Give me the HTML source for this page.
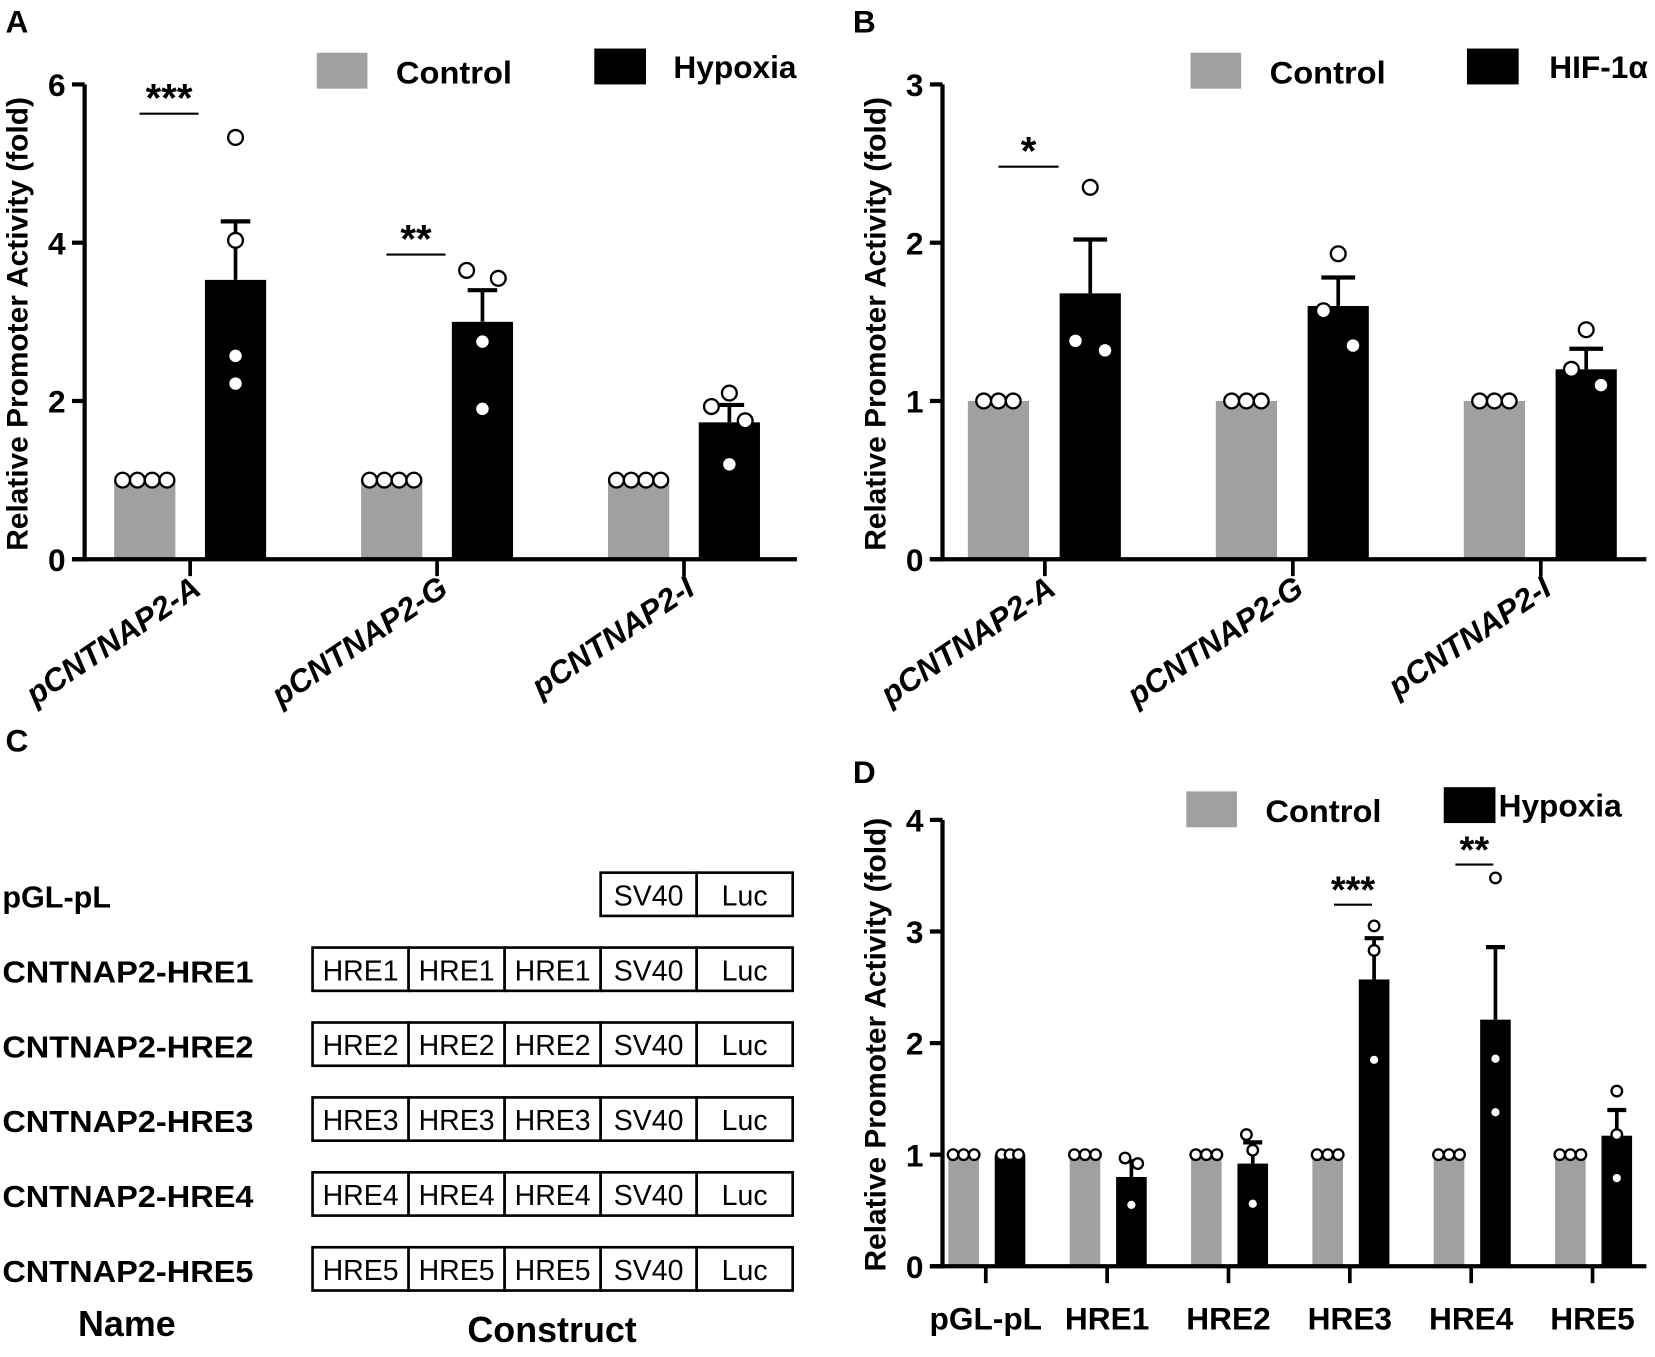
<!DOCTYPE html>
<html><head><meta charset="utf-8"><style>
html,body{margin:0;padding:0;background:#fff;}
svg{display:block;}
text{font-family:"Liberation Sans",sans-serif;font-weight:bold;fill:#000;}
.wide{font-family:"Liberation Sans",sans-serif;}
</style></head><body>
<svg id="fig" width="1655" height="1357" viewBox="0 0 1568 1286" xmlns="http://www.w3.org/2000/svg">
<rect x="0" y="0" width="1568" height="1286" fill="#fff"/>
<text x="5" y="31" font-size="30">A</text>
<text x="808" y="31" font-size="30">B</text>
<text x="5" y="712" font-size="30">C</text>
<text x="808" y="742" font-size="30">D</text>
<g id="panelC"></g>
<g id="panelA"></g>
<g id="panelB"></g>
<g id="panelD"></g>
</svg>
<script>
// ---- Panel A data ----
const aCategories = ["pCNTNAP2-A","pCNTNAP2-G","pCNTNAP2-I"];
const aControl = [1,1,1];
const aTreat = [3.53,3.0,1.73];
const aTreatErr = [4.27,3.4,1.95];
const aTreatPts = [[5.33,4.03,2.57,2.22],[3.65,3.55,2.75,1.9],[2.1,1.93,1.75,1.2]];
const aCtrlPts = [[1,1,1,1],[1,1,1,1],[1,1,1,1]];
const aTicks = [0,2,4,6];
const aSig = [["***",5.63],["**",3.85],null];
// ---- Panel B data ----
const bCategories = ["pCNTNAP2-A","pCNTNAP2-G","pCNTNAP2-I"];
const bControl = [1,1,1];
const bTreat = [1.68,1.6,1.2];
const bTreatErr = [2.02,1.78,1.33];
const bTreatPts = [[2.35,1.38,1.32],[1.93,1.57,1.35],[1.45,1.2,1.1]];
const bCtrlPts = [[1,1,1],[1,1,1],[1,1,1]];
const bTicks = [0,1,2,3];
const bSig = [["*",2.48],null,null];
// ---- Panel D data ----
const dCategories = ["pGL-pL","HRE1","HRE2","HRE3","HRE4","HRE5"];
const dControl = [1,1,1,1,1,1];
const dTreat = [1.0,0.8,0.92,2.57,2.21,1.17];
const dTreatErr = [1.0,0.94,1.11,2.94,2.86,1.4];
const dTreatPts = [[1,1,1],[0.97,0.92,0.55],[1.18,1.04,0.56],[3.05,2.83,1.85],[3.48,1.86,1.38],[1.57,1.18,0.79]];
const dCtrlPts = [[1,1,1],[1,1,1],[1,1,1],[1,1,1],[1,1,1],[1,1,1]];
const dTicks = [0,1,2,3,4];
const dSig = [null,null,null,["***",3.24],["**",3.6],null];
// ---- Panel C data ----
const cNames = ["pGL-pL","CNTNAP2-HRE1","CNTNAP2-HRE2","CNTNAP2-HRE3","CNTNAP2-HRE4","CNTNAP2-HRE5"];
const cParts = [["SV40","Luc"],["HRE1","HRE1","HRE1","SV40","Luc"],["HRE2","HRE2","HRE2","SV40","Luc"],["HRE3","HRE3","HRE3","SV40","Luc"],["HRE4","HRE4","HRE4","SV40","Luc"],["HRE5","HRE5","HRE5","SV40","Luc"]];

const NS="http://www.w3.org/2000/svg";
function mk(tag,attrs,parent){const e=document.createElementNS(NS,tag);for(const k in attrs)e.setAttribute(k,attrs[k]);parent.appendChild(e);return e;}

function drawChart(g,o){
  const yScale=v=>o.y0-(v-o.tickVals[0])/(o.tickVals[o.tickVals.length-1]-o.tickVals[0])*(o.y0-o.yTop);
  const xScale=i=>o.x0Tick+i*o.step;
  o.cats.forEach((c,i)=>{
    const cx=xScale(i);
    const cb=mk('rect',{x:cx+o.cOff-o.bw/2,y:yScale(o.ctrl[i]),width:o.bw,height:o.y0-yScale(o.ctrl[i]),fill:'#a0a0a2'},g);
    
    
    const hb=mk('rect',{x:cx+o.tOff-o.bw/2,y:yScale(o.treat[i]),width:o.bw,height:o.y0-yScale(o.treat[i]),fill:'#000'},g);
    
    
    const ex=cx+o.tOff;
    const el=mk('line',{x1:ex,x2:ex,y1:yScale(o.treat[i]),y2:yScale(o.err[i]),stroke:'#000','stroke-width':3.5},g);
    
    
    const ec=mk('line',{x1:ex-o.cap,x2:ex+o.cap,y1:yScale(o.err[i]),y2:yScale(o.err[i]),stroke:'#000','stroke-width':4},g);
    
    
    const n=o.cpts[i].length;
    o.cpts[i].forEach((v,j)=>{
      const px=cx+o.cOff+(j-(n-1)/2)*o.r*2;
      const p=mk('circle',{cx:px,cy:yScale(v),r:o.r,fill:'#fff',stroke:'#000','stroke-width':2.2},g);
      
      
    });
    o.tpts[i].forEach((v,j)=>{
      let px=ex;
      if(o.jitter && o.jitter[i]){px=ex+o.jitter[i][j];}
      const p=mk('circle',{cx:px,cy:yScale(v),r:o.r,fill:'#fff',stroke:'#000','stroke-width':2.2},g);
      
      
    });
    if(o.sig[i]){
      const sy=yScale(o.sig[i][1]);
      const sl=mk('line',{x1:cx+o.cOff-o.sigHalf,x2:cx+o.tOff+o.sigHalf2,y1:sy,y2:sy,stroke:'#000','stroke-width':2},g);
      
      
      const st=mk('text',{x:(cx+o.cOff-o.sigHalf+cx+o.tOff+o.sigHalf2)/2,y:sy-2,'font-size':o.sigSize,'text-anchor':'middle'},g);
      st.textContent=o.sig[i][0];
      
      
    }
    const tk=mk('line',{x1:cx,x2:cx,y1:o.y0,y2:o.y0+16,stroke:'#000','stroke-width':3.5},g);
    
    
    let lt;
    if(o.rotate){
      lt=mk('text',{x:0,y:0,'font-size':30,'text-anchor':'end','font-style':'italic',transform:`translate(${cx+12},${o.y0+32}) rotate(-34)`},g);
    } else {
      lt=mk('text',{x:cx,y:o.y0+60,'font-size':30,'text-anchor':'middle'},g);
    }
    lt.textContent=c;
    
    
  });
  const ya=mk('line',{x1:o.x0,x2:o.x0,y1:o.yTop,y2:o.y0+2,stroke:'#000','stroke-width':4},g);
  
  
  const xa=mk('line',{x1:o.x0-12,x2:o.xEnd,y1:o.y0,y2:o.y0,stroke:'#000','stroke-width':4},g);
  
  
  o.tickVals.forEach(v=>{
    const y=yScale(v);
    const t=mk('line',{x1:o.x0-12,x2:o.x0,y1:y,y2:y,stroke:'#000','stroke-width':4},g);
    
    
    const tl=mk('text',{x:o.x0-18,y:y+11,'font-size':30,'text-anchor':'end'},g);
    tl.textContent=v;
    
    
  });
  const yl=mk('text',{x:0,y:0,'font-size':28,'text-anchor':'middle',transform:`translate(${o.x0-54},${o.yLabelC}) rotate(-90)`,textLength:o.yLabelLen,lengthAdjust:'spacingAndGlyphs'},g);
  yl.textContent='Relative Promoter Activity (fold)';
  
  
  const l1=mk('rect',{x:o.leg[0],y:o.leg[1],width:48,height:34,fill:'#a0a0a2'},g);
  
  
  const lt1=mk('text',{x:o.leg[0]+75,y:o.leg[1]+29,'font-size':30,textLength:110,lengthAdjust:'spacingAndGlyphs'},g);
  lt1.textContent='Control';
  
  
  const l2=mk('rect',{x:o.leg[2],y:o.leg[1]-4,width:49,height:34,fill:'#000'},g);
  
  
  const lt2=mk('text',{x:o.leg[2]+o.leg[4],y:o.leg[1]+24,'font-size':30},g);
  lt2.textContent=o.leg[3];
  
  
}

drawChart(document.getElementById('panelA'),{cats:aCategories,ctrl:aControl,treat:aTreat,err:aTreatErr,tpts:aTreatPts,cpts:aCtrlPts,tickVals:aTicks,sig:aSig,
  x0:80,xEnd:755,y0:530,yTop:80,x0Tick:180,step:234,bw:58,cOff:-43,tOff:43,cap:14,r:7,jitter:[null,[-15,15,0,0],[0,-17,15,0]],sigHalf:5,sigHalf2:-35,sigSize:38,rotate:true,yLabelC:307,yLabelLen:430,
  leg:[300,50,563,'Hypoxia',75]});
drawChart(document.getElementById('panelB'),{cats:bCategories,ctrl:bControl,treat:bTreat,err:bTreatErr,tpts:bTreatPts,cpts:bCtrlPts,tickVals:bTicks,sig:bSig,
  x0:893,xEnd:1560,y0:530,yTop:80,x0Tick:990,step:235,bw:58,cOff:-44,tOff:43,cap:16,r:7,jitter:[[0,-14,14],[0,-14,14],[0,-14,14]],sigHalf:0,sigHalf2:-30,sigSize:38,rotate:true,yLabelC:307,yLabelLen:430,
  leg:[1128,50,1390,'HIF-1α',78]});
drawChart(document.getElementById('panelD'),{cats:dCategories,ctrl:dControl,treat:dTreat,err:dTreatErr,tpts:dTreatPts,cpts:dCtrlPts,tickVals:dTicks,sig:dSig,
  x0:893,xEnd:1560,y0:1200,yTop:777,x0Tick:934,step:115,bw:29,cOff:-21,tOff:23,cap:9,r:5,jitter:[[-8,0,8],[-6,6,0],[-6,0,0],[0,0,0],[0,0,0],[0,0,0]],sigHalf:-6,sigHalf2:-2,sigSize:36,rotate:false,yLabelC:990,yLabelLen:430,
  leg:[1124,750,1368,'Hypoxia',52]});

(function(){
  const g=document.getElementById('panelC');
  const rowTop=[827,898,969,1040,1111,1182];
  const colX=[296,387,478,569,660,751];
  cNames.forEach((nm,i)=>{
    const t=mk('text',{x:2,y:rowTop[i]+33,'font-size':29},g);
    if(nm.length>8){t.setAttribute('textLength',238);t.setAttribute('lengthAdjust','spacingAndGlyphs');}
    t.textContent=nm;
    
    
    const parts=cParts[i];
    const start=5-parts.length;
    parts.forEach((p,j)=>{
      const k=start+j;
      const r=mk('rect',{x:colX[k],y:rowTop[i],width:colX[k+1]-colX[k],height:41,fill:'#fff',stroke:'#000','stroke-width':2.5},g);
      
      
      const bt=mk('text',{x:(colX[k]+colX[k+1])/2,y:rowTop[i]+31,'font-size':27,'text-anchor':'middle',style:'font-weight:normal'},g);
      bt.textContent=p;
      
      
    });
  });
  const n=mk('text',{x:120,y:1266,'font-size':34,'text-anchor':'middle'},g);
  n.textContent='Name';
  
  
  const c=mk('text',{x:523,y:1272,'font-size':34,'text-anchor':'middle'},g);
  c.textContent='Construct';
  
  
})();
</script>
</body></html>
